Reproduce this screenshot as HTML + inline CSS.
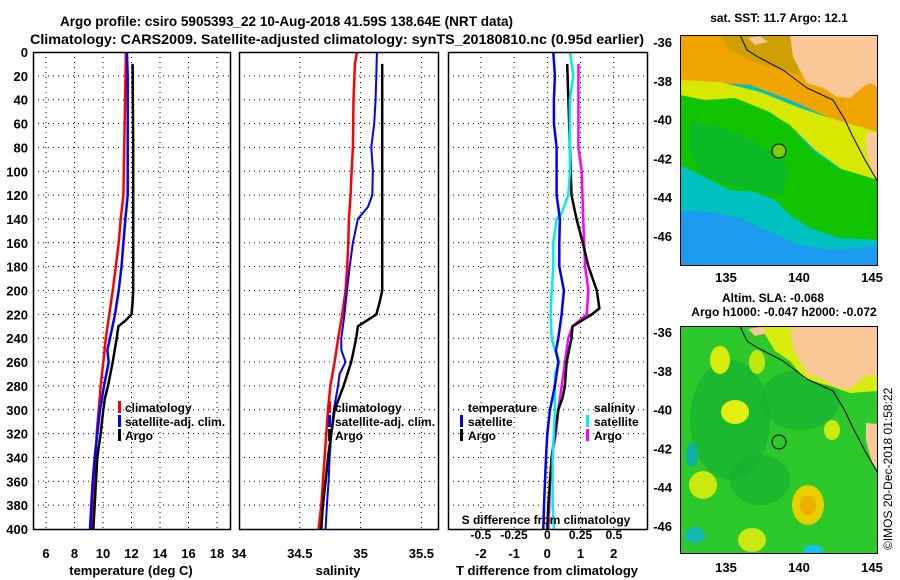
<!DOCTYPE html>
<html><head><meta charset="utf-8"><style>
html,body{margin:0;padding:0;background:#fff;}
svg{display:block;font-family:"Liberation Sans",sans-serif;font-weight:bold;}
</style></head><body>
<svg id="chart" width="900" height="580" viewBox="0 0 900 580" xmlns="http://www.w3.org/2000/svg">
<rect x="0" y="0" width="900" height="580" fill="#fff"/>
<text x="60" y="26" font-size="14" textLength="453" lengthAdjust="spacingAndGlyphs">Argo profile: csiro 5905393_22 10-Aug-2018 41.59S 138.64E (NRT data)</text>
<text x="30" y="44" font-size="14" textLength="614" lengthAdjust="spacingAndGlyphs">Climatology: CARS2009. Satellite-adjusted climatology: synTS_20180810.nc (0.95d earlier)</text>
<g id="grids"></g>
<g id="series"></g>
<g id="frames"></g>
<g id="labels" font-size="13"></g>

<g font-size="12">
<rect x="118" y="401" width="3" height="12" fill="#f00"/><text x="125" y="412">climatology</text>
<rect x="118" y="415" width="3" height="12" fill="#00f"/><text x="125" y="426">satellite-adj. clim.</text>
<rect x="118" y="429" width="3" height="12" fill="#000"/><text x="125" y="440">Argo</text>
</g>
<g font-size="12">
<rect x="328" y="401" width="3" height="12" fill="#f00"/><text x="335" y="412">climatology</text>
<rect x="328" y="415" width="3" height="12" fill="#00f"/><text x="335" y="426">satellite-adj. clim.</text>
<rect x="328" y="429" width="3" height="12" fill="#000"/><text x="335" y="440">Argo</text>
</g>
<g font-size="12">
<text x="468" y="412">temperature</text>
<rect x="460" y="415" width="3" height="12" fill="#00f"/><text x="468" y="426">satellite</text>
<rect x="460" y="429" width="3" height="12" fill="#000"/><text x="468" y="440">Argo</text>
<text x="594" y="412">salinity</text>
<rect x="586" y="415" width="3" height="12" fill="#0ee"/><text x="594" y="426">satellite</text>
<rect x="586" y="429" width="3" height="12" fill="#f0f"/><text x="594" y="440">Argo</text>
</g>
<text x="546" y="524" font-size="12" text-anchor="middle">S difference from climatology</text>

<text x="779" y="22" font-size="12" text-anchor="middle">sat. SST: 11.7 Argo: 12.1</text>
<svg x="680" y="35" width="198" height="231" viewBox="680 35 198 231">
<rect x="680" y="35" width="198" height="231" fill="#00c0c0"/>
<polygon fill="#f0a400" points="680,35 878,35 878,135 830,118 790,100 750,85 700,82 680,82"/>
<polygon fill="#c0a000" opacity="0.7" points="720,35 790,35 800,75 780,70 750,60 730,50"/>
<polygon fill="#d8e800" points="680,80 720,82 760,92 800,108 830,118 878,132 878,182 860,180 840,168 815,150 795,130 770,112 740,102 700,100 680,98"/>
<polygon fill="#10c400" points="680,95 705,100 735,98 765,110 790,125 812,150 838,168 878,180 878,240 840,238 810,228 790,215 775,200 755,192 730,190 710,180 680,165"/>
<polygon fill="#08b040" opacity="0.6" points="690,120 730,130 770,150 790,170 780,195 740,188 700,175 690,150"/>
<polygon fill="#1c9cf0" points="680,210 710,212 740,218 770,232 800,245 830,250 878,246 878,266 680,266"/>
<polygon fill="#f9c896" points="790,35 878,35 878,87 870,83 863,87 850,98 837,97 823,88 807,83 793,57"/>
<polygon fill="#f9c896" points="866,132 878,133 878,180 872,172 866,150"/>
<polygon fill="#f9c896" points="748,38 760,36 768,42 755,45"/>
<polyline fill="none" stroke="#000" stroke-width="1" points="740,35 747,50 758,57 783,70 807,88 833,100 845,120 852,135 865,160 878,182"/>
<circle cx="779" cy="151" r="7" fill="#7ad000" stroke="#000" stroke-width="1"/>
<rect x="680.5" y="35.5" width="197" height="230" fill="none" stroke="#000"/>
</svg>

<text x="773" y="302" font-size="12" text-anchor="middle">Altim. SLA: -0.068</text>
<text x="784" y="316" font-size="12" text-anchor="middle">Argo h1000: -0.047 h2000: -0.072</text>
<svg x="680" y="326" width="198" height="228" viewBox="680 326 198 228">
<rect x="680" y="326" width="198" height="228" fill="#2cc82c"/>
<ellipse cx="730" cy="420" rx="40" ry="60" fill="#16b030" opacity="0.7"/>
<ellipse cx="800" cy="400" rx="40" ry="30" fill="#16b030" opacity="0.7"/>
<ellipse cx="760" cy="480" rx="30" ry="25" fill="#16b030" opacity="0.7"/>
<ellipse cx="720" cy="360" rx="10" ry="14" fill="#d8ec10"/>
<ellipse cx="735" cy="412" rx="14" ry="12" fill="#e4ee10"/>
<ellipse cx="757" cy="362" rx="8" ry="12" fill="#c0e810"/>
<ellipse cx="703" cy="485" rx="14" ry="14" fill="#c8ea10"/>
<ellipse cx="808" cy="505" rx="16" ry="20" fill="#e8d000"/>
<ellipse cx="808" cy="505" rx="8" ry="10" fill="#f0b000"/>
<ellipse cx="752" cy="540" rx="14" ry="12" fill="#c8ea10"/>
<ellipse cx="832" cy="430" rx="8" ry="10" fill="#c8ea10"/>
<ellipse cx="692" cy="455" rx="6" ry="12" fill="#10b0a0"/>
<ellipse cx="695" cy="535" rx="10" ry="8" fill="#10b8b0"/>
<ellipse cx="813" cy="551" rx="10" ry="6" fill="#10c0f0"/>
<g transform="translate(0,291)">
<polygon fill="#d8ec10" points="760,35 878,35 878,100 850,102 830,95 805,88 790,70 775,60"/>
<polygon fill="#f9c896" points="790,35 878,35 878,87 870,83 863,87 850,98 837,97 823,88 807,83 793,57"/>
<polygon fill="#f9c896" points="866,132 878,133 878,180 872,172 866,150"/>
<polygon fill="#f9c896" points="748,38 760,36 768,42 755,45"/>
<polyline fill="none" stroke="#000" stroke-width="1" points="740,35 747,50 758,57 783,70 807,88 833,100 845,120 852,135 865,160 878,182"/>
</g>
<circle cx="779" cy="442" r="7" fill="none" stroke="#000" stroke-width="1"/>
<rect x="680.5" y="326.5" width="197" height="227" fill="none" stroke="#000"/>
</svg>
<g id="maplabels" font-size="13"></g>
<text transform="translate(892,550) rotate(-90)" font-size="12" font-weight="normal">©IMOS 20-Dec-2018 01:58:22</text>
</svg>
<script>
const depthTicks = [0,20,40,60,80,100,120,140,160,180,200,220,240,260,280,300,320,340,360,380,400];
const tempTicks = [6,8,10,12,14,16,18];
const salTicks = [34,34.5,35,35.5];
const salTickLabels = ["34","34.5","35","35.5"];
const tdiffTicks = [-2,-1,0,1,2];
const sdiffTicks = [-0.5,-0.25,0,0.25,0.5];
const sdiffTickLabels = ["-0.5","-0.25","0","0.25","0.5"];
const latTicks = [-36,-38,-40,-42,-44,-46];
const lonTicks = [135,140,145];

const tClimDepth = [0,120,140,160,180,200,220,240,260,280,300,320,340,360,380,400];
const tClim = [11.61,11.43,11.24,11.1,10.9,10.68,10.44,10.2,10.02,9.84,9.7,9.56,9.49,9.37,9.28,9.18];
const tSatDepth = [0,20,120,140,160,180,200,220,240,250,260,280,300,320,340,360,380,400];
const tSat = [11.68,11.73,11.73,11.57,11.43,11.3,11.1,10.84,10.49,10.3,10.4,10.07,9.79,9.6,9.42,9.28,9.18,9.09];
const tArgoDepth = [10,80,200,210,220,225,230,240,260,280,290,300,320,340,360,380,400];
const tArgo = [12.08,12.12,12.12,12.08,12.0,11.6,11.08,10.96,10.68,10.35,10.14,10.02,9.84,9.6,9.51,9.42,9.32];

const sClimDepth = [0,10,40,80,100,120,140,160,180,200,220,240,260,280,300,320,340,360,380,400];
const sClim = [34.97,34.953,34.942,34.937,34.926,34.918,34.904,34.899,34.89,34.877,34.849,34.816,34.786,34.751,34.732,34.718,34.704,34.69,34.677,34.655];
const sSatDepth = [0,20,40,60,80,100,120,130,140,160,180,200,220,240,250,260,270,280,300,320,340,360,380,400];
const sSat = [35.134,35.129,35.123,35.112,35.088,35.101,35.096,35.06,34.978,34.937,34.91,34.888,34.868,34.841,34.841,34.877,34.827,34.814,34.78,34.759,34.745,34.737,34.723,34.712];
const sArgoDepth = [10,200,210,220,230,240,260,280,300,320,340,360,380,400];
const sArgo = [35.178,35.178,35.156,35.129,34.978,34.964,34.923,34.86,34.786,34.759,34.732,34.712,34.69,34.677];

const dtSatDepth = [0,20,40,60,80,120,140,160,180,200,220,240,250,260,280,300,320,340,360,380,400];
const dtSat = [0.18,0.23,0.2,0.2,0.28,0.28,0.38,0.36,0.36,0.5,0.43,0.33,0.26,0.33,0.23,0.08,0,-0.04,-0.07,-0.1,-0.12];
const dtArgoDepth = [10,120,140,160,180,200,215,220,230,240,260,280,290,300,320,340,360,380,400];
const dtArgo = [0.6,0.73,0.88,1.07,1.24,1.49,1.57,1.34,0.76,0.73,0.58,0.53,0.46,0.33,0.23,0.13,0.08,0.03,0];
const dsSatDepth = [0,20,40,100,120,135,140,160,180,200,220,240,250,260,270,300,320,340,360,380,400];
const dsSat = [0.17,0.196,0.17,0.17,0.158,0.108,0.07,0.045,0.045,0.033,0.025,0.033,0.058,0.09,0.058,0.058,0.05,0.04,0.04,0.04,0.05];
const dsArgoDepth = [10,80,100,140,180,200,220,230,240,260,280,300,320,340,360,380,400];
const dsArgo = [0.234,0.234,0.259,0.27,0.284,0.309,0.296,0.19,0.158,0.133,0.108,0.083,0.065,0.033,0.02,0.015,0.008];

const TOP=52, BOT=529;
const yD = d => TOP + d*(BOT-TOP)/400;
const xT = t => 46 + (t-6)*14.25;
const xS = s => 239 + (s-34)*121.6;
const xDT = t => 547.3 + t*33.2;
const xDS = s => 547.3 + s*133;
const yLat1 = la => 42 + (-36-la)*19.4;
const yLat2 = la => 332 + (-36-la)*19.4;
const xLon = lo => 726 + (lo-135)*14.6;

const NS="http://www.w3.org/2000/svg";
function mk(tag, attrs, parent){const e=document.createElementNS(NS,tag);for(const k in attrs)e.setAttribute(k,attrs[k]);parent.appendChild(e);return e;}
const G=document.getElementById('grids'), S=document.getElementById('series'), F=document.getElementById('frames'), L=document.getElementById('labels'), ML=document.getElementById('maplabels');

const panels=[[33,231],[239,439],[448,648]];
panels.forEach(p=>{
  depthTicks.forEach(d=>{
    if(d===0||d===400) return;
    const l=mk('line',{x1:p[0],x2:p[1],y1:yD(d),y2:yD(d),stroke:'#000','stroke-width':1,'stroke-dasharray':'1,4'},G);
    
    
  });
});
depthTicks.forEach(d=>{
  const t=mk('text',{x:28,y:yD(d)+5,'text-anchor':'end'},L);
  t.textContent=d;
  
  
});
function vgrid(xs, f){xs.forEach(v=>{const x=f(v);const l=mk('line',{x1:x,x2:x,y1:TOP,y2:BOT,stroke:'#000','stroke-width':1,'stroke-dasharray':'1,4'},G);
  
  });}
vgrid(tempTicks,xT); vgrid([34.5,35,35.5],xS); vgrid(tdiffTicks,xDT);

tempTicks.forEach(v=>{const t=mk('text',{x:xT(v),y:558,'text-anchor':'middle'},L);t.textContent=v;
  
  });
salTicks.forEach((v,i)=>{const t=mk('text',{x:xS(v),y:558,'text-anchor':'middle'},L);t.textContent=salTickLabels[i];
  
  });
tdiffTicks.forEach(v=>{const t=mk('text',{x:xDT(v),y:558,'text-anchor':'middle'},L);t.textContent=v;
  
  });
sdiffTicks.forEach((v,i)=>{const t=mk('text',{x:xDS(v),y:539,'text-anchor':'middle','font-size':12},L);t.textContent=sdiffTickLabels[i];
  
  });
[["temperature (deg C)",131,"temperature-axis-title"],["salinity",338,"salinity-axis-title"],["T difference from climatology",547,"t-diff-axis-title"]].forEach(a=>{
  const t=mk('text',{x:a[1],y:575,'text-anchor':'middle'},L);t.textContent=a[0];
  
  });

function series(dep, vals, f, color, w, name){
  const pts=dep.map((d,i)=>f(vals[i]).toFixed(1)+','+yD(d).toFixed(1)).join(' ');
  const p=mk('polyline',{points:pts,fill:'none',stroke:color,'stroke-width':w,'stroke-linejoin':'round'},S);
  
  
}
series(tClimDepth,tClim,xT,'#f00',2.5,'temperature-climatology-line');
series(tSatDepth,tSat,xT,'#00f',2.5,'temperature-satellite-line');
series(tArgoDepth,tArgo,xT,'#000',2.5,'temperature-argo-line');
series(sClimDepth,sClim,xS,'#f00',2.5,'salinity-climatology-line');
series(sSatDepth,sSat,xS,'#00f',2,'salinity-satellite-line');
series(sArgoDepth,sArgo,xS,'#000',2.5,'salinity-argo-line');
series(dsArgoDepth,dsArgo,xDS,'#f0f',2.5,'s-diff-argo-line');
series(dtArgoDepth,dtArgo,xDT,'#000',2.5,'t-diff-argo-line');
series(dsSatDepth,dsSat,xDS,'#0ee',2.5,'s-diff-satellite-line');
series(dtSatDepth,dtSat,xDT,'#00f',2.5,'t-diff-satellite-line');

panels.forEach((p,i)=>{const r=mk('rect',{x:p[0]+0.5,y:TOP+0.5,width:p[1]-p[0]-1,height:BOT-TOP,fill:'none',stroke:'#000','stroke-width':1.5},F);
  
  });

latTicks.forEach(la=>{
  [yLat1,yLat2].forEach(f=>{const t=mk('text',{x:672,y:f(la)+5,'text-anchor':'end'},ML);t.textContent=la;
    
    });
});
lonTicks.forEach(lo=>{
  [282,572].forEach(y=>{const t=mk('text',{x:xLon(lo),y:y,'text-anchor':'middle'},ML);t.textContent=lo;
    
    });
});
</script>
</body></html>
